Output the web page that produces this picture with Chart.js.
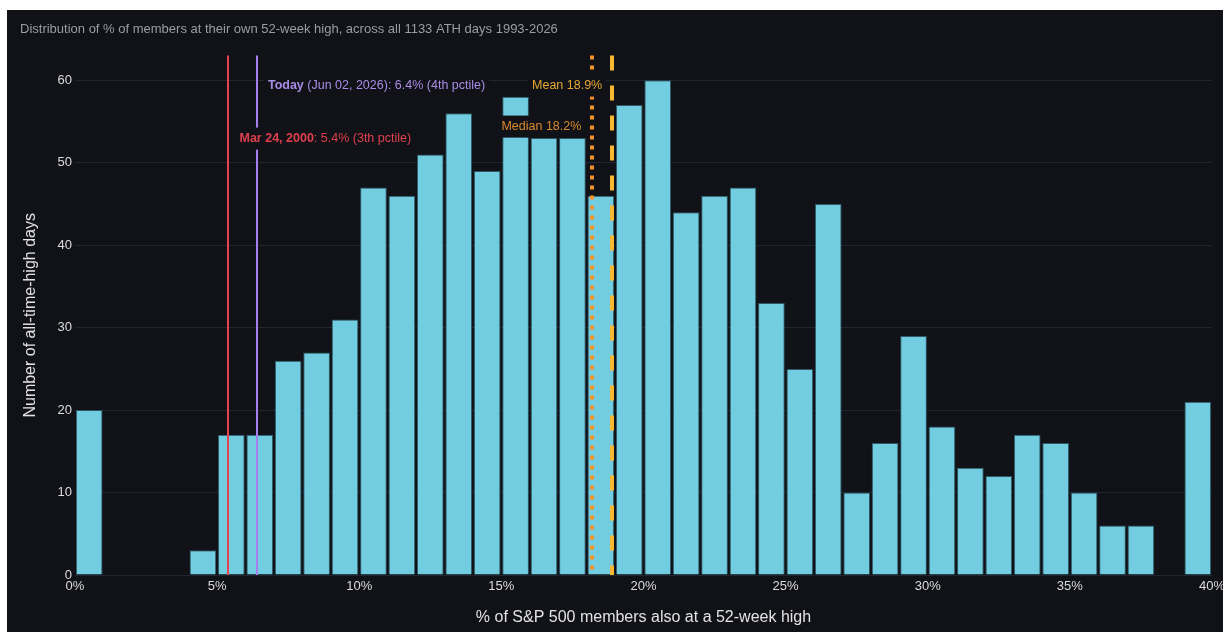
<!DOCTYPE html>
<html lang="en">
<head>
  <meta charset="UTF-8">
  <title>ATH Days - Breadth Distribution</title>
  <script src="https://cdn.jsdelivr.net/npm/chart.js"></script>
  <style>
    body { margin: 0; background: #fff; }
    #wrap { position: absolute; left: 7px; top: 10px; width: 1216px; height: 622px; background: #111217; }
  </style>
</head>
<body>
  <div id="wrap"><canvas id="hist"></canvas></div>

  <script>
    // 1%-wide bins: left edge of each bin and count of ATH days in it
    const binStarts = [0, 1, 2, 3, 4, 5, 6, 7, 8, 9, 10, 11, 12, 13, 14, 15, 16, 17, 18, 19,
                       20, 21, 22, 23, 24, 25, 26, 27, 28, 29, 30, 31, 32, 33, 34, 35, 36, 37, 38, 39];
    const dayCounts = [20, 0, 0, 0, 3, 17, 17, 26, 27, 31, 47, 46, 51, 56, 49, 58, 53, 53, 46, 57,
                       60, 44, 46, 47, 33, 25, 45, 10, 16, 29, 18, 13, 12, 17, 16, 10, 6, 6, 0, 21];
    const xTicks = [0, 5, 10, 15, 20, 25, 30, 35, 40];

    // reference markers
    const todayPct = 6.4;
    const dotcomPct = 5.4;
    const medianPct = 18.2;
    const meanPct = 18.9;

    const FONT = "'Liberation Sans', Arial, sans-serif";

    const markerPlugin = {
      id: 'markers',
      afterDatasetsDraw(chart) {
        const { ctx, chartArea, scales: { x } } = chart;
        const top = chartArea.top, bottom = chartArea.bottom;

        // vertical lines
        const lines = [
          { v: dotcomPct, color: '#e4444f', width: 2, dash: [] },
          { v: todayPct, color: '#a67ef0', width: 2, dash: [] },
          { v: medianPct, color: '#f5922a', width: 4, dash: [4, 6] },
          { v: meanPct, color: '#f7b833', width: 4, dash: [15, 15] }
        ];
        ctx.save();
        lines.forEach(l => {
          const px = Math.round(x.getPixelForValue(l.v));
          ctx.beginPath();
          ctx.strokeStyle = l.color;
          ctx.lineWidth = l.width;
          ctx.setLineDash(l.dash);
          ctx.moveTo(px, top);
          ctx.lineTo(px, bottom);
          ctx.stroke();
        });
        ctx.setLineDash([]);

        // labels with dark boxes behind them
        const labels = [
          { v: todayPct, dx: 11, dy: 30, align: 'left', bold: 'Today', rest: ' (Jun 02, 2026): 6.4% (4th pctile)', color: '#a98ce6' },
          { v: dotcomPct, dx: 11, dy: 83, align: 'left', bold: 'Mar 24, 2000', rest: ': 5.4% (3th pctile)', color: '#e0404e' },
          { v: meanPct, dx: -10, dy: 30, align: 'right', bold: '', rest: 'Mean 18.9%', color: '#e6a830' },
          { v: medianPct, dx: -11, dy: 71, align: 'right', bold: '', rest: 'Median 18.2%', color: '#d98a2b' }
        ];
        const boldFont = 'bold 12.5px ' + FONT;
        const normFont = '12.5px ' + FONT;
        ctx.textBaseline = 'middle';
        labels.forEach(lb => {
          ctx.font = boldFont;
          const wb = lb.bold ? ctx.measureText(lb.bold).width : 0;
          ctx.font = normFont;
          const wr = ctx.measureText(lb.rest).width;
          const w = wb + wr;
          const ax = x.getPixelForValue(lb.v) + lb.dx;
          const sx = lb.align === 'left' ? ax : ax - w;
          const cy = top + lb.dy;
          ctx.fillStyle = '#111217';
          ctx.fillRect(sx - 4, cy - 11, w + 8, 22);
          ctx.textAlign = 'left';
          ctx.fillStyle = lb.color;
          if (lb.bold) {
            ctx.font = boldFont;
            ctx.fillText(lb.bold, sx, cy);
          }
          ctx.font = normFont;
          ctx.fillText(lb.rest, sx + wb, cy);
        });
        ctx.restore();
      }
    };

    new Chart(document.getElementById('hist'), {
      type: 'bar',
      data: {
        datasets: [{
          data: binStarts.map((b, i) => ({ x: b + 0.5, y: dayCounts[i] })),
          backgroundColor: '#72cde0',
          borderColor: '#2e5866',
          borderWidth: 1,
          barPercentage: 0.94,
          categoryPercentage: 1
        }]
      },
      options: {
        responsive: true,
        maintainAspectRatio: false,
        animation: false,
        layout: { padding: { left: 13 } },
        plugins: {
          legend: { display: false },
          tooltip: { enabled: false },
          title: {
            display: true,
            text: 'Distribution of % of members at their own 52-week high, across all 1133 ATH days 1993-2026',
            align: 'start',
            color: '#9a9da3',
            font: { family: FONT, size: 13, weight: 'normal' },
            padding: { top: 12, bottom: 18 }
          }
        },
        scales: {
          x: {
            type: 'linear',
            offset: false,
            min: 0,
            max: 40,
            afterBuildTicks: axis => { axis.ticks = xTicks.map(v => ({ value: v })); },
            afterFit: axis => { axis.height = 57; axis.paddingRight = 11; },
            grid: { display: false, drawTicks: false },
            border: { display: false },
            ticks: {
              color: '#dcdcdc',
              font: { family: FONT, size: 13 },
              padding: 4,
              maxRotation: 0,
              callback: v => v + '%'
            },
            title: {
              display: true,
              text: '% of S&P 500 members also at a 52-week high',
              color: '#e2e2e2',
              font: { family: FONT, size: 16 },
              padding: { top: 0, bottom: 5 }
            }
          },
          y: {
            min: 0,
            max: 63,
            afterFit: axis => { axis.width = 55; },
            grid: { color: '#1f2630', drawTicks: false },
            border: { display: false },
            ticks: {
              stepSize: 10,
              includeBounds: false,
              color: '#dcdcdc',
              font: { family: FONT, size: 13 },
              padding: 3
            },
            title: {
              display: true,
              text: 'Number of all-time-high days',
              color: '#e2e2e2',
              font: { family: FONT, size: 16 },
              padding: { top: 1, bottom: 0 }
            }
          }
        }
      },
      plugins: [markerPlugin]
    });
  </script>
</body>
</html>
